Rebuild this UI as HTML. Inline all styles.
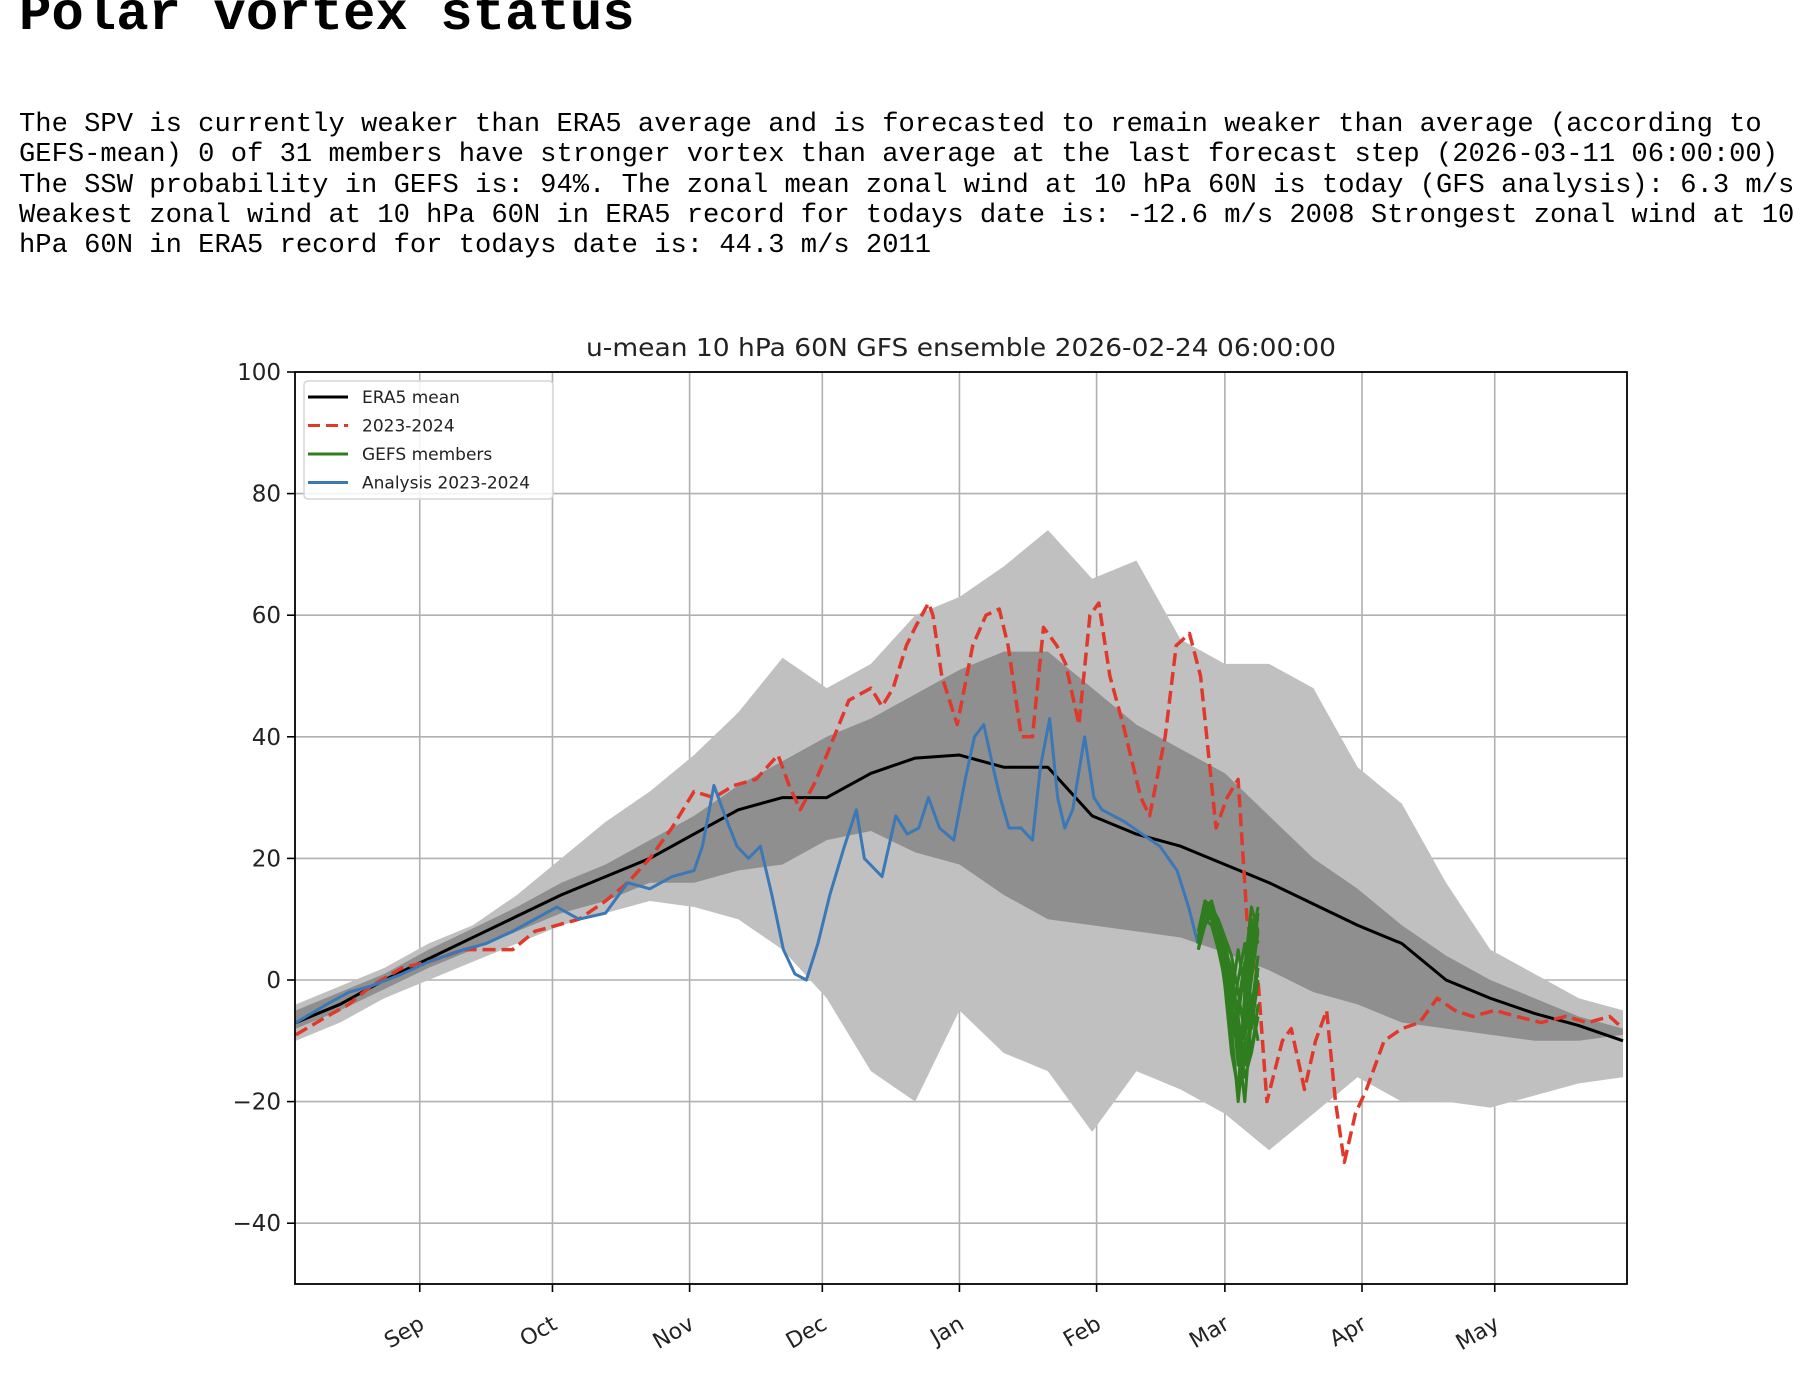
<!DOCTYPE html>
<html><head><meta charset="utf-8"><title>Polar vortex status</title>
<style>
html,body{margin:0;padding:0;background:#fff;width:1818px;height:1382px;overflow:hidden}
.mono{font-family:"Liberation Mono",monospace}
#h1{position:absolute;left:19px;top:-12px;font-size:54px;line-height:56px;font-weight:bold;margin:0;white-space:pre}
#desc{position:absolute;left:19px;top:110px;font-size:27.15px;line-height:30.3px;white-space:pre;margin:0}
svg{position:absolute;left:0;top:0}
</style></head><body>
<h1 id="h1" class="mono">Polar vortex status</h1>
<p id="desc" class="mono">The SPV is currently weaker than ERA5 average and is forecasted to remain weaker than average (according to
GEFS-mean) 0 of 31 members have stronger vortex than average at the last forecast step (2026-03-11 06:00:00)
The SSW probability in GEFS is: 94%. The zonal mean zonal wind at 10 hPa 60N is today (GFS analysis): 6.3 m/s
Weakest zonal wind at 10 hPa 60N in ERA5 record for todays date is: -12.6 m/s 2008 Strongest zonal wind at 10
hPa 60N in ERA5 record for todays date is: 44.3 m/s 2011</p>
<svg id="chart" width="1818" height="1382" xmlns="http://www.w3.org/2000/svg"></svg>
<script>
// ---- data ----
const bandDays=[3,13,23,33,43,53,63,73,83,93,103,113,123,133,143,153,163,173,183,193,203,213,223,233,243,253,263,273,283,293,303];
const era5Mean=[-7,-4,0,3.5,7,10.5,14,17,20,24,28,30,30,34,36.5,37,35,35,27,24,22,19,16,12.5,9,6,0,-3,-5.5,-7.5,-10];
const maxBand=[-4,-1,2,6,9,14,20,26,31,37,44,53,48,52,60,63,68,74,66,69,56,52,52,48,35,29,16,5,1,-3,-5];
const upperBand=[-5,-2,1,5,8.5,12,16,19,23,27,32,36,40,43,47,51,54,54,48,42,38,34,27,20,15,9,4,0,-3,-6,-8];
const lowerBand=[-8,-5,-1.5,2,5,8,11,13,16,16,18,19,23,24.5,21,19,14,10,9,8,7,4.5,1.6,-2,-4,-7,-8,-9,-10,-10,-9];
const minBand=[-10,-7,-3,0,3,6,9,11,13,12,10,5,-3,-15,-20,-5,-12,-15,-25,-15,-18,-22,-28,-22,-16,-20,-20,-21,-19,-17,-16];
const redDays=[3,10,15,20,27,33,41,46,52,57,62,67,73,78,83,88,93,97.5,102,107,112,114.5,117,120,123,128,133,135.5,138,141,143,146,147,149,152.5,156,159,162,164,167,169.5,172,175,177,180,182.5,184.5,187,190,194,196,199.5,202,205,207.5,211,213.5,216,218,220.5,222.5,226,228,231,233.5,236,238,240,242.5,245,249,253,257,261,265,269,274,279,284.5,290,295,300,303];
const redVals=[-9,-6,-4,-1,2,3,5,5,5,8,9,10,13,16,20,25,31,30,32,33,37,32,28,32,37,46,48,45,48,55,58,62,60,50,42,55,60,61,55,40,40,58,55,52,42,60,62,50,42,30,27,40,55,57,50,25,30,33,10,0,-20,-10,-8,-18,-10,-5,-20,-30,-22,-18,-10,-8,-7,-3,-5,-6,-5,-6,-7,-6,-7,-6,-8];
const blueDays=[3,10,15,20,27,33,41,46,52,57,62,67,73,78,83,88,93,94.9,97.5,100,102.7,105.3,108,110.6,113.2,115.8,118.4,121,123.7,127,129.7,131.5,135.5,138.6,141.2,143.8,146,148.5,151.7,154.3,156.4,158.5,160.6,162.2,164.2,166.9,169.5,171.3,173.4,175.2,176.8,178.6,181.3,183.4,185.2,187.8,190.4,194.3,198.3,202.2,204.8,206.9];
const blueVals=[-7,-4,-2,-1,1,3,5,6,8,10,12,10,11,16,15,17,18,22,32,27,22,20,22,14,5,1,0,6,14,22,28,20,17,27,24,25,30,25,23,33,40,42,35,30,25,25,23,35,43,30,25,28,40,30,28,27,26,24,22,18,12,6];
const gfsDays=[207,208.5,210,211.5,213,214.5,216,217.5,219,220.5];
const gfsMembers=[
[6,12,10,6,2,-5,-12,-8,0,8],
[7,13,11,8,4,0,-6,-14,-5,4],
[5,11,12,9,3,-8,-20,-10,2,11],
[6,10,9,5,0,-3,5,-2,-12,-6],
[8,13,12,10,7,4,-2,-9,6,12],
[5,9,11,7,1,-10,-4,3,-8,0],
[6,12,13,9,5,2,-8,-16,-12,-4],
[7,11,10,8,6,-2,-14,-6,8,10],
[6,13,12,7,-1,-12,-18,-2,10,6],
[5,10,11,9,2,-6,0,6,-4,-10],
[6,12,10,8,3,-4,-10,-20,-6,2],
[7,12,12,9,6,1,-6,2,12,8]];
const yTicks=[-40,-20,0,20,40,60,80,100];
const monthLabels=['Sep','Oct','Nov','Dec','Jan','Feb','Mar','Apr','May'];
const monthDays=[31,61,92,122,153,184,213,244,274];
// ---- axes ----
const L=295,R=1627,T=372,B=1284,D0=2.8,D1=303.9,V0=-50,V1=100;
const xs=d=>L+(d-D0)/(D1-D0)*(R-L);
const ys=v=>B-(v-V0)/(V1-V0)*(B-T);
const NS='http://www.w3.org/2000/svg';
const svg=document.getElementById('chart');
function mk(tag,attrs,parent){const e=document.createElementNS(NS,tag);for(const k in attrs)e.setAttribute(k,attrs[k]);(parent||svg).appendChild(e);return e;}
const clip=mk('clipPath',{id:'pc'});mk('rect',{x:L,y:T,width:R-L,height:B-T},clip);
const F='"DejaVu Sans","Liberation Sans",sans-serif';
// grid
const grid=mk('g',{});


monthDays.forEach(d=>{mk('line',{x1:xs(d),x2:xs(d),y1:T,y2:B,stroke:'#b0b0b0','stroke-width':1.6},grid);});
yTicks.forEach(v=>{mk('line',{x1:L,x2:R,y1:ys(v),y2:ys(v),stroke:'#b0b0b0','stroke-width':1.6},grid);});
const plot=mk('g',{'clip-path':'url(#pc)'});
function band(lo,hi,fill,name){
  let p='M'+bandDays.map((d,i)=>xs(d)+','+ys(hi[i])).join('L');
  p+='L'+bandDays.map((d,i)=>[d,i]).reverse().map(([d,i])=>xs(d)+','+ys(lo[i])).join('L')+'Z';
  const e=mk('path',{d:p,fill:fill,stroke:'none'},plot);
  
  
}
band(minBand,maxBand,'#c0c0c0','min-max-band');
band(lowerBand,upperBand,'#8f8f8f','percentile-band');
function line(days,vals,attrs,name){
  const e=mk('path',Object.assign({d:'M'+days.map((d,i)=>xs(d)+','+ys(vals[i])).join('L'),fill:'none','stroke-linejoin':'round'},attrs),plot);
  
  
}
line(bandDays,era5Mean,{stroke:'#000','stroke-width':3},'era5-mean-line');
line(redDays,redVals,{stroke:'#e0392b','stroke-width':3.5,'stroke-dasharray':'13,6'},'season-2023-2024-line');
line(blueDays,blueVals,{stroke:'#3b78b6','stroke-width':3},'analysis-2023-2024-line');
gfsMembers.forEach((m,i)=>{line(gfsDays,m,{stroke:'#2f7d1e','stroke-width':3},'gefs-member-'+(i+1));});
// frame
const fr=mk('rect',{x:L,y:T,width:R-L,height:B-T,fill:'none',stroke:'#000','stroke-width':1.8});


// y ticks
yTicks.forEach(v=>{
  mk('line',{x1:L-8,x2:L,y1:ys(v),y2:ys(v),stroke:'#000','stroke-width':1.6});
  const t=mk('text',{x:L-14,y:ys(v)+8,'text-anchor':'end','font-family':F,'font-size':23,fill:'#222'});
  t.textContent=String(v).replace('-','\u2212');
  
  
});
// x ticks
monthDays.forEach((d,i)=>{
  mk('line',{x1:xs(d),x2:xs(d),y1:B,y2:B+8,stroke:'#000','stroke-width':1.6});
  const x=xs(d),y=B+44;
  const t=mk('text',{x:x+6,y:y,'text-anchor':'end','font-family':F,'font-size':22,fill:'#222',transform:'rotate(-30 '+(x+6)+' '+y+')'});
  t.textContent=monthLabels[i];
  
  
});
// title
const ti=mk('text',{x:(L+R)/2,y:356,'text-anchor':'middle','font-family':F,'font-size':25,fill:'#222',textLength:750,lengthAdjust:'spacingAndGlyphs'});
ti.textContent='u-mean 10 hPa 60N GFS ensemble 2026-02-24 06:00:00';


// legend
const lg=mk('g',{});


mk('rect',{x:304,y:381,width:249,height:118,rx:4,fill:'#fff','fill-opacity':0.85,stroke:'#d5d5d5','stroke-width':1.5},lg);
const entries=[['ERA5 mean','#000',''],['2023-2024','#e0392b','12,6'],['GEFS members','#2f7d1e',''],['Analysis 2023-2024','#3b78b6','']];
entries.forEach((e,i)=>{
  const y=397+i*28.5;
  const g=mk('g',{},lg);
  
  
  mk('line',{x1:308,x2:348,y1:y,y2:y,stroke:e[1],'stroke-width':3,'stroke-dasharray':e[2]||'none'},g);
  const t=mk('text',{x:362,y:y+6,'font-family':F,'font-size':17,fill:'#222'},g);
  t.textContent=e[0];
});
</script>
</body></html>
